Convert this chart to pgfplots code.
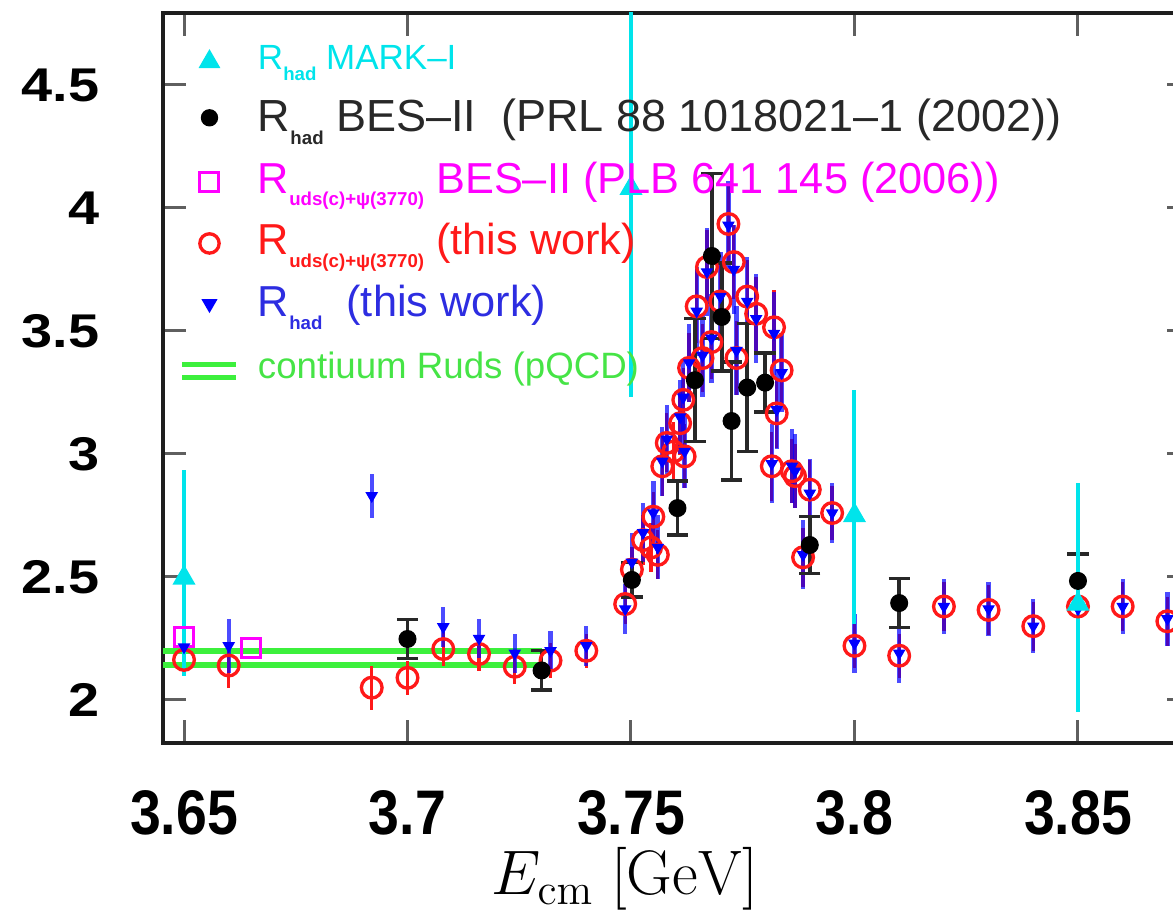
\documentclass[border=0pt]{standalone}
\usepackage[no-math]{fontspec}
\setmainfont{Liberation Sans}
\newfontfamily\xtf[FakeStretch=0.88]{Liberation Sans Bold}
\newfontfamily\ytf[FakeStretch=1.18]{Liberation Sans Bold}
\usepackage{graphicx}
\usepackage{pgfplots}
\pgfplotsset{compat=1.18}
\usepackage{pgfplotstable}

\definecolor{cyanM}{RGB}{0,228,235}
\definecolor{magM}{RGB}{255,0,255}
\definecolor{redM}{RGB}{255,25,25}
\definecolor{blueM}{RGB}{0,0,255}
\definecolor{blueT}{RGB}{45,45,225}
\definecolor{greenM}{RGB}{60,240,60}
\definecolor{greenT}{RGB}{70,228,70}
\definecolor{axisC}{RGB}{30,30,30}
\definecolor{tickC}{RGB}{95,95,95}
\definecolor{blkE}{RGB}{40,40,40}
\definecolor{txtK}{RGB}{40,40,40}

\newcommand{\sub}[1]{\raisebox{-0.55ex}{\fontsize{5.6pt}{6pt}\selectfont\bfseries #1}}

\pgfplotstableread{
x y ep em
3.650 2.496 0.44 0.40
3.750 4.080 0.85 0.85
3.800 2.750 0.51 0.44
3.850 2.390 0.49 0.44
}\cyanT

\pgfplotstableread{
x y e
3.700 2.248 0.08
3.730 2.120 0.08
3.7502 2.488 0.07
3.7604 2.780 0.11
3.7643 3.300 0.25
3.7681 3.805 0.335
3.7703 3.557 0.22
3.7725 3.134 0.24
3.7760 3.270 0.26
3.7800 3.290 0.12
3.7900 2.630 0.115
3.810 2.394 0.10
3.850 2.484 0.11
}\blackT

\pgfplotstableread{
x y e
3.650 2.163 0.06
3.660 2.140 0.09
3.692 2.050 0.09
3.700 2.090 0.07
3.708 2.207 0.07
3.716 2.187 0.07
3.724 2.135 0.07
3.732 2.160 0.07
3.740 2.200 0.07
3.7487 2.390 0.08
3.7502 2.530 0.09
3.7527 2.650 0.10
3.7545 2.620 0.10
3.7550 2.745 0.10
3.7560 2.590 0.10
3.7570 2.950 0.12
3.7580 3.045 0.12
3.7595 3.010 0.12
3.7610 3.125 0.13
3.7617 3.220 0.13
3.7620 2.990 0.13
3.7630 3.350 0.14
3.7647 3.600 0.15
3.7660 3.390 0.14
3.7670 3.760 0.15
3.7680 3.455 0.15
3.7700 3.620 0.15
3.7718 3.935 0.16
3.7730 3.780 0.15
3.7736 3.390 0.15
3.7760 3.640 0.15
3.7780 3.570 0.15
3.7815 2.950 0.14
3.7820 3.515 0.15
3.7826 3.165 0.14
3.7837 3.340 0.14
3.7860 2.930 0.13
3.7867 2.910 0.13
3.7885 2.580 0.12
3.7900 2.855 0.12
3.7950 2.760 0.11
3.800 2.220 0.09
3.810 2.180 0.09
3.820 2.380 0.10
3.830 2.366 0.10
3.840 2.300 0.10
3.850 2.380 0.10
3.860 2.380 0.10
3.870 2.320 0.10
}\redT

\pgfplotstableread{
x y e
3.650 2.215 0.08
3.660 2.220 0.11
3.692 2.830 0.09
3.708 2.297 0.08
3.716 2.250 0.08
3.724 2.190 0.08
3.732 2.200 0.08
3.740 2.220 0.08
3.7487 2.370 0.10
3.7502 2.560 0.12
3.7527 2.680 0.12
3.7550 2.760 0.13
3.7560 2.620 0.13
3.7570 2.970 0.14
3.7580 3.060 0.14
3.7610 3.150 0.15
3.7617 3.230 0.15
3.7620 3.010 0.15
3.7630 3.370 0.16
3.7647 3.580 0.18
3.7660 3.400 0.17
3.7670 3.740 0.18
3.7680 3.470 0.18
3.7700 3.640 0.18
3.7718 3.930 0.18
3.7730 3.750 0.18
3.7736 3.420 0.18
3.7760 3.620 0.18
3.7780 3.550 0.18
3.7815 2.960 0.16
3.7820 3.490 0.17
3.7826 3.180 0.16
3.7837 3.330 0.16
3.7860 2.950 0.15
3.7867 2.930 0.15
3.7885 2.590 0.14
3.7900 2.840 0.14
3.7950 2.760 0.12
3.800 2.230 0.12
3.810 2.190 0.12
3.820 2.380 0.11
3.830 2.370 0.11
3.840 2.300 0.11
3.850 2.370 0.11
3.860 2.380 0.11
3.870 2.330 0.11
}\blueT

\begin{document}
\begin{tikzpicture}
\begin{axis}[
  at={(48.9pt,51.6pt)}, anchor=south west,
  scale only axis, width=308.1pt, height=219pt,
  xmin=3.6453, xmax=3.87506, ymin=1.8252, ymax=4.7927,
  xtick={3.65,3.7,3.75,3.8,3.85},
  ytick={2,2.5,3,3.5,4,4.5},
  tick align=inside, major tick length=7pt,
  axis line style={axisC, line width=1.2pt},
  every tick/.style={tickC, line width=0.9pt},
  /pgf/number format/assume math mode=true,
  xticklabel style={font=\xtf\fontsize{18.9pt}{20pt}\selectfont, anchor=base, yshift=-27.6pt},
  yticklabel style={font=\ytf\fontsize{14.2pt}{16pt}\selectfont, anchor=east, inner sep=0pt, xshift=-18.9pt},
  xlabel={\scalebox{0.91}{\huge $E_{\mathrm{cm}}\ [\mathrm{GeV}]$}},
  xlabel style={at={(axis description cs:0.45,-0.208)}, anchor=base},
  legend cell align=left,
  legend style={at={(axis cs:3.6491,4.7305)}, anchor=north west, draw=none, fill=none,
    inner sep=0pt, outer sep=0pt, row sep=0pt, column sep=5.7pt,
    font=\fontsize{13pt}{15pt}\selectfont,
    nodes={inner sep=0pt, text height=12.5pt, text depth=6pt}},
]
% legend entries
\addlegendimage{cyanM, legend image code/.code={\path (-8.1pt,0pt) (8.1pt,0pt);
  \fill[cyanM] plot[mark=triangle*, mark size=3.4pt] coordinates {(0pt,-0.8pt)};}}
\addlegendentry{\fontsize{10.5pt}{12pt}\selectfont\textcolor{cyanM}{R\sub{had} MARK–I}}
\addlegendimage{black, legend image code/.code={\path (-8.1pt,0pt) (8.1pt,0pt);
  \fill[black] plot[mark=*, mark size=2.4pt] coordinates {(0pt,0.9pt)};}}
\addlegendentry{\fontsize{13.5pt}{15pt}\selectfont\textcolor{txtK}{R\sub{had} BES–II\ \ (PRL 88 1018021–1 (2002))}}
\addlegendimage{magM, legend image code/.code={\path (-8.1pt,0pt) (8.1pt,0pt);
  \draw[magM, line width=0.9pt] plot[mark=square, mark size=2.85pt] coordinates {(0pt,0.2pt)};}}
\addlegendentry{\textcolor{magM}{R\sub{uds(c)+ψ(3770)} BES–II (PLB 641 145 (2006))}}
\addlegendimage{redM, legend image code/.code={\path (-8.1pt,0pt) (8.1pt,0pt);
  \draw[redM, line width=1pt] plot[mark=o, mark size=2.9pt] coordinates {(0pt,0.2pt)};}}
\addlegendentry{\textcolor{redM}{R\sub{uds(c)+ψ(3770)} (this work)}}
\addlegendimage{blueM, legend image code/.code={\path (-8.1pt,0pt) (8.1pt,0pt);
  \fill[blueM] plot[mark=triangle*, mark size=2.4pt, mark options={rotate=180}] coordinates {(0pt,0.6pt)};}}
\addlegendentry{\textcolor{blueT}{R\sub{had}\ \ (this work)}}
\addlegendimage{greenM, legend image code/.code={
  \draw[greenM, line width=1.5pt] (-8.1pt,0.9pt) -- (8.1pt,0.9pt);
  \draw[greenM, line width=1.5pt] (-8.1pt,-2.9pt) -- (8.1pt,-2.9pt);}}
\addlegendentry{\fontsize{11pt}{13pt}\selectfont\textcolor{greenT}{contiuum Ruds (pQCD)}}

% continuum pQCD band edges
\addplot[greenM, line width=1.8pt, forget plot] coordinates {(3.6453,2.200) (3.730,2.200)};
\addplot[greenM, line width=1.8pt, forget plot] coordinates {(3.6453,2.142) (3.730,2.142)};

% BES-II 2006
\addplot[only marks, mark=square, mark size=2.85pt, magM, line width=0.9pt, forget plot]
  coordinates {(3.650,2.256) (3.665,2.210)};

% R_uds(c) this work
\addplot[only marks, mark=o, mark size=3.1pt, redM, line width=1pt, forget plot,
  error bars/.cd, y dir=both, y explicit, error mark=none,
  error bar style={redM, line width=1pt}]
  table[x=x, y=y, y error=e] {\redT};

% R_had this work
\addplot[only marks, mark=triangle*, mark size=1.8pt, mark options={rotate=180, blueM}, blueM, forget plot,
  error bars/.cd, y dir=both, y explicit, error mark=none,
  error bar style={blueM, line width=1.3pt, opacity=0.7}]
  table[x=x, y=y, y error=e] {\blueT};

% BES-II 2002
\addplot[only marks, mark=*, mark size=2.5pt, black, forget plot,
  error bars/.cd, y dir=both, y explicit, error mark=-,
  error mark options={rotate=90, mark size=3.2pt, line width=1pt, blkE},
  error bar style={blkE, line width=1.1pt}]
  table[x=x, y=y, y error=e] {\blackT};

% MARK-I
\addplot[only marks, mark=triangle*, mark size=3.6pt, cyanM, forget plot,
  error bars/.cd, y dir=both, y explicit, error mark=none,
  error bar style={cyanM, line width=1.2pt}]
  table[x=x, y=y, y error plus=ep, y error minus=em] {\cyanT};
\end{axis}
\pgfresetboundingbox
\path[use as bounding box] (0pt,0pt) rectangle (351.9pt,274.5pt);
\end{tikzpicture}
\end{document}
